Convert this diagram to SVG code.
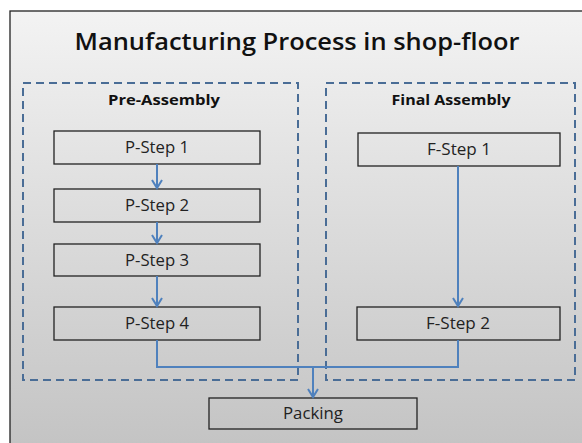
<svg xmlns="http://www.w3.org/2000/svg" width="582" height="443" viewBox="0 0 582 443">
<defs>
<linearGradient id="bg" x1="0" y1="0" x2="0" y2="1">
<stop offset="0" stop-color="#f3f3f3"/>
<stop offset="1" stop-color="#c3c3c3"/>
</linearGradient>
<marker id="arr" viewBox="0 0 12 12" refX="10" refY="6" markerWidth="12" markerHeight="12" markerUnits="userSpaceOnUse" orient="auto">
<path d="M2,1 L10,6 L2,11" fill="none" stroke="#4f81bd" stroke-width="2"/>
</marker>
<style>
.box{fill:none;stroke:#222;stroke-width:1.3}
.grp{fill:none;stroke:#4a6d96;stroke-width:2;stroke-dasharray:8,5}
.lbl{font-family:"Open Sans","Liberation Sans",sans-serif;font-size:15.5px;fill:#222;text-anchor:middle}
.hdr{font-family:"Open Sans","Liberation Sans",sans-serif;font-size:15px;font-weight:bold;fill:#111;text-anchor:middle}
.con{fill:none;stroke:#4f81bd;stroke-width:2}
</style>
</defs>
<rect width="582" height="443" fill="#fff"/>
<rect x="10" y="11" width="580" height="440" fill="url(#bg)" stroke="#222" stroke-width="1.3"/>
<text x="297" y="50" font-family="Open Sans, Liberation Sans, sans-serif" font-size="24" font-weight="600" fill="#111" text-anchor="middle" textLength="445" lengthAdjust="spacingAndGlyphs">Manufacturing Process in shop-floor</text>
<g id="pre-assembly">
<rect class="grp" x="23" y="83" width="275" height="297"/>
<text class="hdr" x="164" y="105" textLength="112" lengthAdjust="spacingAndGlyphs">Pre-Assembly</text>
</g>
<g id="final-assembly">
<rect class="grp" x="326" y="83" width="249" height="297"/>
<text class="hdr" x="451" y="105" textLength="119" lengthAdjust="spacingAndGlyphs">Final Assembly</text>
</g>
<g id="p1"><rect class="box" x="54" y="131" width="206" height="33"/><text class="lbl" x="157" y="153" textLength="64" lengthAdjust="spacingAndGlyphs">P-Step 1</text></g>
<g id="p2"><rect class="box" x="54" y="189" width="206" height="33"/><text class="lbl" x="157" y="211" textLength="64" lengthAdjust="spacingAndGlyphs">P-Step 2</text></g>
<g id="p3"><rect class="box" x="54" y="244" width="206" height="32"/><text class="lbl" x="157" y="266" textLength="64" lengthAdjust="spacingAndGlyphs">P-Step 3</text></g>
<g id="p4"><rect class="box" x="54" y="307" width="206" height="33"/><text class="lbl" x="157" y="329" textLength="64" lengthAdjust="spacingAndGlyphs">P-Step 4</text></g>
<g id="f1"><rect class="box" x="358" y="133" width="202" height="33"/><text class="lbl" x="459" y="155" textLength="64" lengthAdjust="spacingAndGlyphs">F-Step 1</text></g>
<g id="f2"><rect class="box" x="357" y="307" width="203" height="33"/><text class="lbl" x="458" y="329" textLength="64" lengthAdjust="spacingAndGlyphs">F-Step 2</text></g>
<g id="packing"><rect class="box" x="209" y="398" width="208" height="31"/><text class="lbl" x="313" y="419" textLength="60" lengthAdjust="spacingAndGlyphs">Packing</text></g>
<g id="connectors">
<line class="con" x1="157" y1="164" x2="157" y2="188" marker-end="url(#arr)"/>
<line class="con" x1="157" y1="222" x2="157" y2="243" marker-end="url(#arr)"/>
<line class="con" x1="157" y1="276" x2="157" y2="306" marker-end="url(#arr)"/>
<line class="con" x1="458" y1="166" x2="458" y2="306" marker-end="url(#arr)"/>
<polyline class="con" points="157,340 157,367 458,367 458,340"/>
<line class="con" x1="313" y1="367" x2="313" y2="397" marker-end="url(#arr)"/>
</g>
</svg>
